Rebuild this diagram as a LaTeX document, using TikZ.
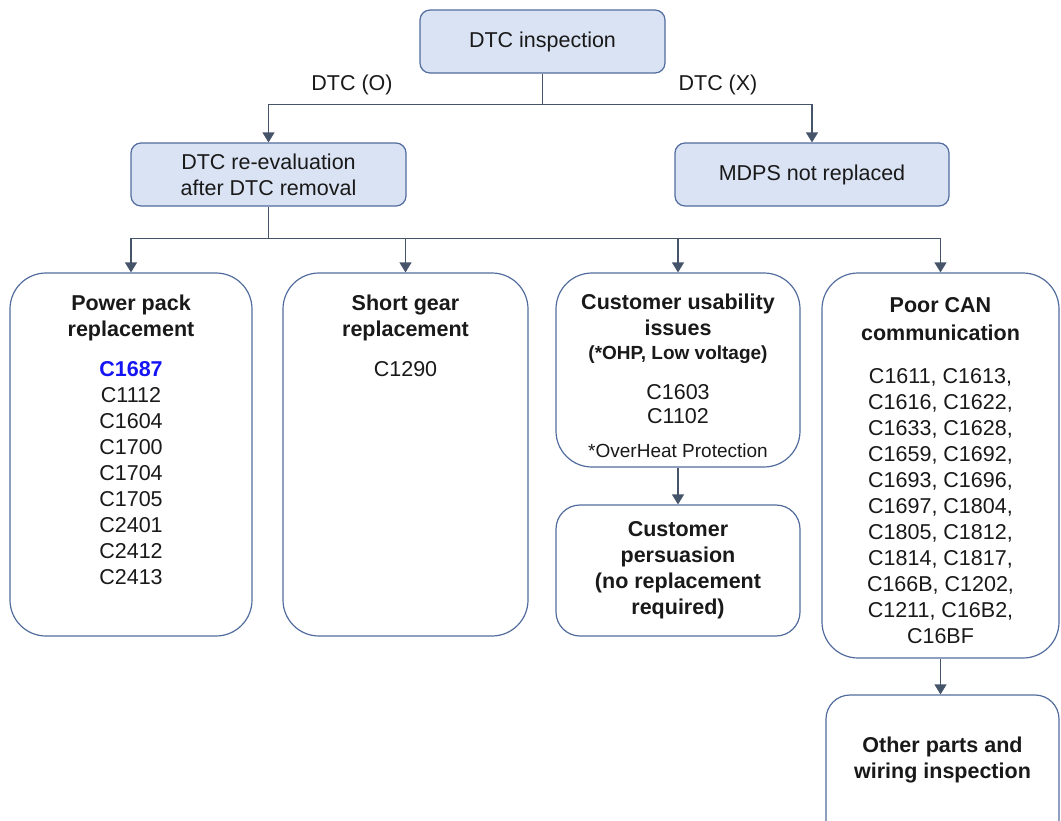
\documentclass[tikz,border=0pt]{standalone}
\usepackage{fontspec}
\setmainfont{Liberation Sans}
\usepackage{tikz}
\usetikzlibrary{arrows.meta}
\definecolor{boxline}{RGB}{82,108,158}
\definecolor{boxfill}{RGB}{218,227,243}
\definecolor{linkcol}{RGB}{70,84,106}
\definecolor{textdark}{RGB}{25,25,25}
\definecolor{codeblue}{RGB}{20,20,245}

\begin{document}
\begin{tikzpicture}[x=1pt, y=-1pt,
	txt/.style={font=\fontsize{21.5}{26}\selectfont, align=center, inner sep=0pt, text=textdark},
	head/.style={txt, font=\fontsize{21.5}{26}\selectfont\bfseries},
	note/.style={txt, font=\fontsize{19}{22}\selectfont},
	bluebox/.style={draw=boxline, fill=boxfill, rounded corners=10pt, line width=1.2pt, inner sep=0pt, txt},
	whitebox/.style={draw=boxline, fill=white, rounded corners=36pt, line width=1.2pt, inner sep=0pt},
	conn/.style={draw=linkcol, line width=1.2pt},
	arr/.style={conn, -{Triangle[length=10pt,width=12pt]}}]
	\useasboundingbox (0,0) rectangle (1061,820);
	\node[bluebox, minimum width=245pt, minimum height=63pt] (insp) at (542.5,41.5) {DTC inspection};
	\node[bluebox, minimum width=275pt, minimum height=63pt] (reeval) at (268.5,174.5) {DTC re-evaluation\\after DTC removal};
	\node[bluebox, minimum width=274pt, minimum height=63pt] (mdps) at (812,174.5) {MDPS not replaced};
	\node[txt] (lblO) at (352,85) {DTC (O)};
	\node[txt] (lblX) at (718,85) {DTC (X)};
	\node[whitebox, minimum width=242pt, minimum height=363pt] (ppbox) at (131,454.5) {};
	\node[head] (pphead) at (131,318) {Power pack\\replacement};
	\node[txt] (ppcodes) at (131,473) {{\bfseries\color{codeblue}C1687}\\C1112\\C1604\\C1700\\C1704\\C1705\\C2401\\C2412\\C2413};
	\node[whitebox, minimum width=245pt, minimum height=363pt] (sgbox) at (405.5,454.5) {};
	\node[head] (sghead) at (405.5,318) {Short gear\\replacement};
	\node[txt] (sgcode) at (405.5,369) {C1290};
	\node[whitebox, minimum width=244pt, minimum height=194pt] (cubox) at (678,370) {};
	\node[head] (cuhead) at (678,315) {Customer usability\\issues};
	\node[note, font=\fontsize{19}{22}\selectfont\bfseries] (cusub) at (678,355) {(*OHP, Low voltage)};
	\node[txt] (cucodes) at (678,404) {C1603\\[-2pt]C1102};
	\node[note] (cunote) at (678,451) {*OverHeat Protection};
	\node[whitebox, rounded corners=24pt, minimum width=244pt, minimum height=131pt] (cpbox) at (678,570.5) {};
	\node[head] (cptext) at (678,570) {Customer\\persuasion\\(no replacement\\required)};
	\node[whitebox, minimum width=237pt, minimum height=385pt] (canbox) at (940.5,465.5) {};
	\node[head] (canhead) at (940.5,319) {Poor CAN\\[2pt]communication};
	\node[txt] (cancodes) at (940.5,506.5) {C1611, C1613,\\C1616, C1622,\\C1633, C1628,\\C1659, C1692,\\C1693, C1696,\\C1697, C1804,\\C1805, C1812,\\C1814, C1817,\\C166B, C1202,\\C1211, C16B2,\\C16BF};
	\node[whitebox, rounded corners=24pt, minimum width=233pt, minimum height=155pt] (opbox) at (942.5,772.5) {};
	\node[head] (optext) at (942.5,760) {Other parts and\\wiring inspection};
	\draw[conn] (insp.south) -- ++(0,31) coordinate (splitA);
	\draw[arr] (splitA) -| (reeval.north);
	\draw[arr] (splitA) -| (mdps.north);
	\draw[conn] (reeval.south) -- ++(0,32) coordinate (splitB);
	\draw[arr] (splitB) -| (ppbox.north);
	\draw[arr] (splitB) -| (sgbox.north);
	\draw[arr] (splitB) -| (cubox.north);
	\draw[arr] (splitB) -| (canbox.north);
	\draw[arr] (cubox.south) -- (cpbox.north);
	\draw[arr] (canbox.south) -- (canbox.south |- opbox.north);
\end{tikzpicture}
\end{document}
